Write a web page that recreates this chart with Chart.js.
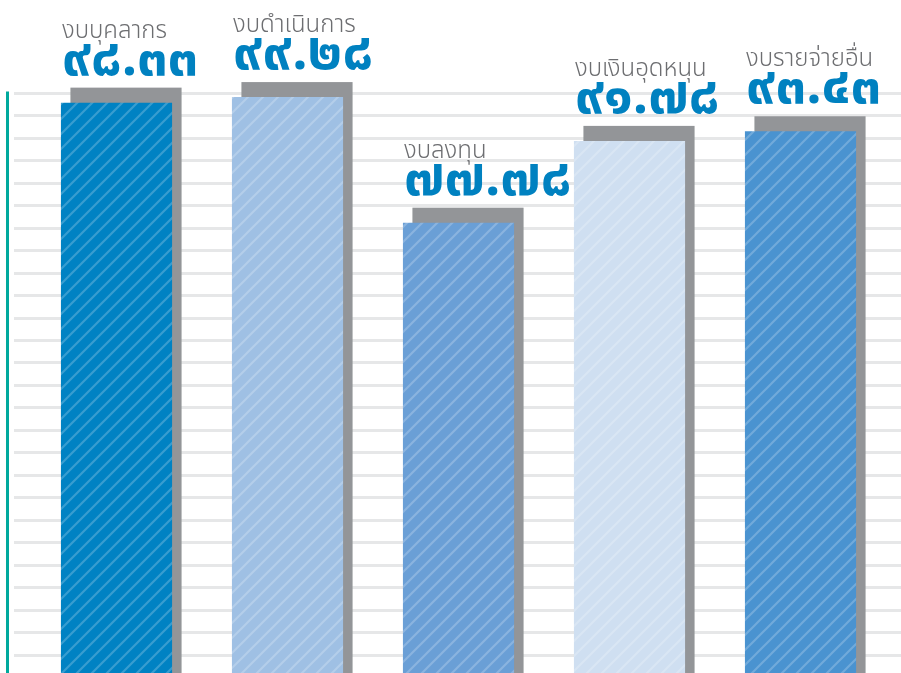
<!DOCTYPE html>
<html>
<head>
<meta charset="utf-8">
<script src="https://cdn.jsdelivr.net/npm/chart.js@4"></script>
<style>
  html, body { margin: 0; padding: 0; overflow: hidden; background: #ffffff; }
  #wrap { position: relative; width: 901px; height: 677px; }
</style>
</head>
<body>
<div id="wrap"><canvas id="c"></canvas></div>
<script>
// ---- data ----
const categories = ['งบบุคลากร', 'งบดำเนินการ', 'งบลงทุน', 'งบเงินอุดหนุน', 'งบรายจ่ายอื่น'];
const values = [98.33, 99.28, 77.78, 91.78, 93.43];
const valueLabels = ['๙๘.๓๓', '๙๙.๒๘', '๗๗.๗๘', '๙๑.๗๘', '๙๓.๔๓'];
const barColors = ['#0082c3', '#9fc0e4', '#6a9fd6', '#cfdff1', '#4a93d0'];
const gridTickCount = 26;      // horizontal rules from 0 to 100
const gridMax = 100;

// ---- styles ----
const shadowColor = '#939598';
const gridColor = '#e6e7e8';
const axisColor = '#00a99d';
const catColor = '#6d6e71';
const valColor = '#0081c0';
const thaiFont = "'Noto Sans Thai', 'Noto Sans', 'Loma', 'Garuda', 'Tlwg Typist', sans-serif";

function hatch(color) {
  const s = 15;
  const cv = document.createElement('canvas');
  cv.width = s; cv.height = s;
  const g = cv.getContext('2d');
  g.fillStyle = color;
  g.fillRect(0, 0, s, s);
  g.strokeStyle = 'rgba(255,255,255,0.22)';
  g.lineWidth = 2.2;
  g.beginPath();
  g.moveTo(-2, s + 2); g.lineTo(s + 2, -2);
  g.moveTo(-2, 2); g.lineTo(2, -2);
  g.moveTo(s - 2, s + 2); g.lineTo(s + 2, s - 2);
  g.stroke();
  return document.getElementById('c').getContext('2d').createPattern(cv, 'repeat');
}

const SHADOW_DX = 9.5, SHADOW_DY = 15;

const decor = {
  id: 'decor',
  beforeDatasetsDraw(chart) {
    const ctx = chart.ctx;
    const y = chart.scales.y;
    const W = chart.width, H = chart.height;
    ctx.save();
    ctx.strokeStyle = gridColor;
    ctx.lineWidth = 3;
    for (let k = 0; k <= gridTickCount; k++) {
      const py = Math.round(y.getPixelForValue(k * gridMax / gridTickCount)) + 0.5;
      ctx.beginPath();
      ctx.moveTo(14, py); ctx.lineTo(W, py);
      ctx.stroke();
    }
    ctx.strokeStyle = axisColor;
    ctx.lineWidth = 3;
    ctx.beginPath();
    ctx.moveTo(7.5, y.getPixelForValue(gridMax) - 1.5);
    ctx.lineTo(7.5, H);
    ctx.stroke();
    const meta = chart.getDatasetMeta(0);
    ctx.fillStyle = shadowColor;
    meta.data.forEach(bar => {
      const left = bar.x - bar.width / 2 + SHADOW_DX;
      const top = bar.y - SHADOW_DY;
      ctx.fillRect(left, top, bar.width, bar.base - top);
    });
    ctx.restore();
  },
  afterDatasetsDraw(chart) {
    const ctx = chart.ctx;
    const meta = chart.getDatasetMeta(0);
    ctx.save();
    ctx.textAlign = 'left';
    ctx.textBaseline = 'alphabetic';
    meta.data.forEach((bar, i) => {
      const left = bar.x - bar.width / 2 + 1;
      const sTop = bar.y - SHADOW_DY;
      ctx.fillStyle = valColor;
      ctx.font = "bold 54px " + thaiFont;
      ctx.fillText(valueLabels[i], left, sTop - 13);
      ctx.fillStyle = catColor;
      ctx.font = "300 24px " + thaiFont;
      ctx.fillText(categories[i], left, sTop - 50);
    });
    ctx.restore();
  }
};

new Chart(document.getElementById('c'), {
  type: 'bar',
  data: {
    labels: categories,
    datasets: [{
      data: values,
      backgroundColor: barColors.map(hatch),
      borderWidth: 0,
      categoryPercentage: 1,
      barPercentage: 0.65
    }]
  },
  options: {
    responsive: true,
    maintainAspectRatio: false,
    animation: false,
    layout: { padding: { left: 31, right: 15, top: 0, bottom: 0 } },
    plugins: { legend: { display: false }, tooltip: { enabled: false } },
    scales: {
      x: { display: false },
      y: { display: false, min: 0, max: 115.9 }
    }
  },
  plugins: [decor]
});
</script>
</body>
</html>
